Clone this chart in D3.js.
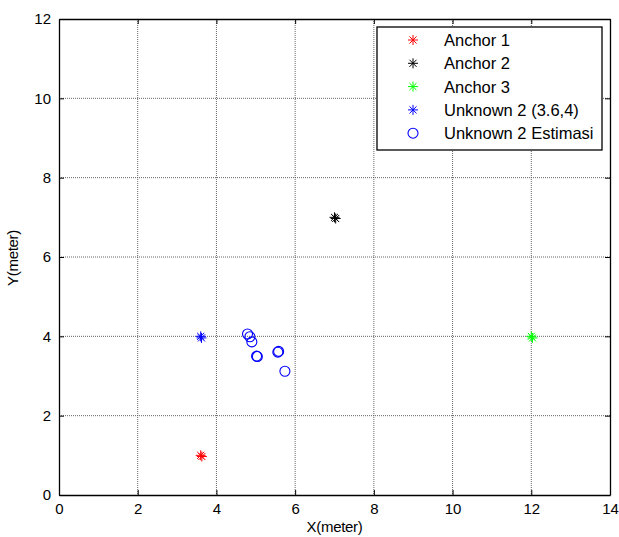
<!DOCTYPE html>
<html>
<head>
<meta charset="utf-8">
<script src="https://cdn.jsdelivr.net/npm/d3@7"></script>
<style>
body { margin: 0; background: #fff; }
text { font-family: "Liberation Sans", Arial, sans-serif; }
</style>
</head>
<body>
<div id="chart"></div>
<script>
var svgWidth = 619;
var svgHeight = 537;

var margin = { top: 19, right: 9, bottom: 42, left: 59 };
var width = svgWidth - margin.left - margin.right;
var height = svgHeight - margin.top - margin.bottom;

// data
var xTicks = [0, 2, 4, 6, 8, 10, 12, 14];
var yTicks = [0, 2, 4, 6, 8, 10, 12];

var anchor1 = [[3.6, 1.0], [3.63, 0.97]];
var anchor2 = [[7.0, 7.0], [7.03, 6.97]];
var anchor3 = [[12.0, 4.0], [12.03, 3.96]];
var unknown = [[3.6, 4.0], [3.62, 3.96]];
var estimasi = [
    [4.79, 4.06], [4.85, 3.99], [4.90, 3.86],
    [5.02, 3.50], [5.04, 3.49],
    [5.56, 3.60], [5.58, 3.62],
    [5.74, 3.12]
];

var legendNames = ["Anchor 1", "Anchor 2", "Anchor 3", "Unknown 2 (3.6,4)", "Unknown 2 Estimasi"];
var legendColors = ["#ff0000", "#000000", "#00ff00", "#0000ff", "#0000ff"];

var svg = d3.select("#chart")
    .append("svg")
    .attr("width", svgWidth)
    .attr("height", svgHeight);

var chartGroup = svg.append("g")
    .attr("transform", `translate(${margin.left}, ${margin.top})`);

var xScale = d3.scaleLinear().domain([0, 14]).range([0, width]);
var yScale = d3.scaleLinear().domain([0, 12]).range([height, 0]);

// grid
chartGroup.append("g")
    .selectAll("line")
    .data(xTicks.slice(1, -1))
    .enter()
    .append("line")
    .attr("x1", d => xScale(d)).attr("x2", d => xScale(d))
    .attr("y1", 0).attr("y2", height)
    .attr("stroke", "#555").attr("stroke-width", 0.9)
    .attr("stroke-dasharray", "1,1");

chartGroup.append("g")
    .selectAll("line")
    .data(yTicks.slice(1, -1))
    .enter()
    .append("line")
    .attr("y1", d => yScale(d)).attr("y2", d => yScale(d))
    .attr("x1", 0).attr("x2", width)
    .attr("stroke", "#555").attr("stroke-width", 0.9)
    .attr("stroke-dasharray", "1,1");

// axes
var bottomAxis = d3.axisBottom(xScale).tickValues(xTicks).tickSizeInner(-5).tickSizeOuter(0).tickPadding(8);
var topAxis = d3.axisTop(xScale).tickValues(xTicks).tickSizeInner(-5).tickSizeOuter(0).tickFormat("");
var leftAxis = d3.axisLeft(yScale).tickValues(yTicks).tickSizeInner(-5).tickSizeOuter(0).tickPadding(8);
var rightAxis = d3.axisRight(yScale).tickValues(yTicks).tickSizeInner(-5).tickSizeOuter(0).tickFormat("");

function styleAxis(g) {
    g.selectAll("path").attr("stroke", "#000").attr("stroke-width", 1.3);
    g.selectAll("line").attr("stroke", "#000");
    g.selectAll("text").attr("font-size", 15).attr("fill", "#000")
        .style("font-family", "'Liberation Sans', Arial, sans-serif");
}

chartGroup.append("g").attr("transform", `translate(0, ${height})`).call(bottomAxis).call(styleAxis);
chartGroup.append("g").call(topAxis).call(styleAxis);
chartGroup.append("g").call(leftAxis).call(styleAxis);
chartGroup.append("g").attr("transform", `translate(${width}, 0)`).call(rightAxis).call(styleAxis);

// star marker like matlab '*'
function starPath(r) {
    var p = "";
    for (var i = 0; i < 4; i++) {
        var a = i * Math.PI / 4;
        var dx = r * Math.cos(a), dy = r * Math.sin(a);
        p += `M${-dx},${-dy}L${dx},${dy}`;
    }
    return p;
}

function drawStars(data, color) {
    chartGroup.append("g")
        .selectAll("path")
        .data(data)
        .enter()
        .append("path")
        .attr("transform", d => `translate(${xScale(d[0])}, ${yScale(d[1])})`)
        .attr("d", starPath(5))
        .attr("fill", "none")
        .attr("stroke", color)
        .attr("stroke-width", 1);
}

drawStars(anchor1, legendColors[0]);
drawStars(anchor2, legendColors[1]);
drawStars(anchor3, legendColors[2]);
drawStars(unknown, legendColors[3]);

chartGroup.append("g")
    .selectAll("circle")
    .data(estimasi)
    .enter()
    .append("circle")
    .attr("cx", d => xScale(d[0]))
    .attr("cy", d => yScale(d[1]))
    .attr("r", 5)
    .attr("fill", "none")
    .attr("stroke", "#0000ff")
    .attr("stroke-width", 1.1);

// legend
var legend = svg.append("g").attr("transform", "translate(377, 27)");
legend.append("rect")
    .attr("width", 225).attr("height", 123)
    .attr("fill", "#fff").attr("stroke", "#000").attr("stroke-width", 1.3);

var items = legend.selectAll("g.item")
    .data(legendNames)
    .enter()
    .append("g")
    .attr("class", "item")
    .attr("transform", (d, i) => `translate(0, ${13 + i * 23.3})`);

items.each(function(d, i) {
    var g = d3.select(this);
    if (i < 4) {
        g.append("path")
            .attr("transform", "translate(36, 0)")
            .attr("d", starPath(5))
            .attr("fill", "none")
            .attr("stroke", legendColors[i]);
    } else {
        g.append("circle")
            .attr("cx", 36).attr("cy", 0).attr("r", 5)
            .attr("fill", "none").attr("stroke", legendColors[i]).attr("stroke-width", 1.1);
    }
    g.append("text")
        .attr("x", 67).attr("y", 6)
        .attr("font-size", 16.5)
        .text(d);
});

// axis labels
svg.append("text")
    .attr("x", margin.left + width / 2)
    .attr("y", 532)
    .attr("text-anchor", "middle")
    .attr("font-size", 15)
    .attr("letter-spacing", -0.3)
    .text("X(meter)");

svg.append("text")
    .attr("transform", "translate(18, 258) rotate(-90)")
    .attr("text-anchor", "middle")
    .attr("font-size", 15)
    .attr("letter-spacing", -0.3)
    .text("Y(meter)");
</script>
</body>
</html>
